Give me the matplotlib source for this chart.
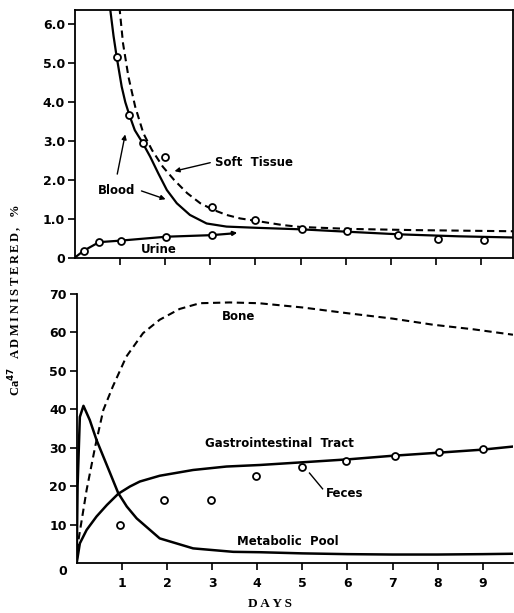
import numpy as np
import matplotlib.pyplot as plt

# --- upper panel: blood, soft tissue, urine (% of Ca47 given) ---
obs_days = [0.93, 1.21, 1.52, 2.0, 3.03, 4.0, 5.02, 6.02, 7.16, 8.04, 9.06]
obs_vals = [5.16, 3.67, 2.96, 2.60, 1.31, 0.97, 0.74, 0.69, 0.58, 0.47, 0.46]

blood_days = [0.78, 0.86, 0.93, 1.04, 1.12, 1.21, 1.33, 1.50, 1.67, 1.85, 2.04,
              2.26, 2.55, 2.92, 3.36, 4.0, 5.0, 6.0, 7.2, 8.5, 9.7]
blood_vals = [6.45, 5.70, 5.16, 4.40, 4.00, 3.67, 3.28, 2.96, 2.60, 2.17, 1.74,
              1.40, 1.10, 0.88, 0.80, 0.77, 0.73, 0.67, 0.60, 0.55, 0.52]

soft_days = [0.99, 1.07, 1.19, 1.34, 1.52, 1.71, 1.95, 2.20, 2.49, 2.78,
             3.07, 3.36, 3.66, 4.0, 4.6, 5.0, 6.1, 7.5, 9.7]
soft_vals = [6.45, 5.51, 4.65, 3.88, 3.20, 2.77, 2.34, 2.0, 1.66, 1.40,
             1.23, 1.10, 1.01, 0.95, 0.84, 0.79, 0.74, 0.71, 0.68]

urine_days = [0, 0.2, 0.54, 1.02, 2.03, 3.03, 3.45]
urine_vals = [0, 0.18, 0.40, 0.44, 0.54, 0.58, 0.62]
urine_obs_days = [0.2, 0.54, 1.02, 2.03, 3.03]
urine_obs_vals = [0.18, 0.40, 0.44, 0.54, 0.58]

top_yticks = [0, 1, 2, 3, 4, 5, 6]
top_ylabels = ['0', '1.0', '2.0', '3.0', '4.0', '5.0', '6.0']

# --- lower panel: bone, GI tract, metabolic pool, feces ---
bone_days = [0, 0.04, 0.22, 0.41, 0.59, 0.8, 1.1, 1.47, 1.84, 2.28, 2.73,
             3.39, 4.04, 5.0, 6.0, 7.0, 7.9, 8.8, 9.67]
bone_vals = [0, 6.0, 19.0, 30.3, 39.8, 45.9, 53.7, 59.8, 63.3, 66.1, 67.6,
             67.8, 67.6, 66.5, 65.0, 63.6, 62.0, 60.8, 59.4]

pool_days = [0, 0.02, 0.07, 0.15, 0.29, 0.44, 0.59, 0.74, 0.92, 1.11, 1.33,
             1.84, 2.58, 3.47, 4.06, 5.0, 6.0, 7.0, 8.0, 9.0, 9.67]
pool_vals = [0, 20.0, 38.0, 40.9, 37.2, 32.0, 27.7, 23.4, 18.2, 14.7, 11.6,
             6.4, 3.8, 2.9, 2.8, 2.5, 2.3, 2.2, 2.2, 2.3, 2.4]

gi_days = [0, 0.07, 0.22, 0.44, 0.67, 0.92, 1.18, 1.40, 1.84, 2.58, 3.32,
           4.06, 5.0, 6.05, 7.0, 7.89, 9.0, 9.67]
gi_vals = [0, 5.1, 8.6, 12.1, 15.1, 18.0, 19.9, 21.2, 22.7, 24.2, 25.1,
           25.5, 26.2, 27.0, 27.9, 28.6, 29.5, 30.3]

feces_days = [0.95, 1.94, 2.97, 3.97, 5.0, 5.98, 7.05, 8.02, 9.0]
feces_vals = [9.9, 16.4, 16.4, 22.7, 25.1, 26.6, 27.9, 28.8, 29.6]

bot_yticks = [10, 20, 30, 40, 50, 60, 70]
day_ticks = [1, 2, 3, 4, 5, 6, 7, 8, 9]

sans = 'DejaVu Sans'
serif = 'Liberation Serif'
dash = (0, (3.5, 2.2))
circ = dict(marker='o', ms=5, mfc='white', mec='black', mew=1.3, ls='none', zorder=5)

fig = plt.figure(figsize=(5.14, 6.13), dpi=100)

# upper panel
ax1 = fig.add_axes([0.1453, 0.5796, 0.8527, 0.4041])
ax1.plot(blood_days, blood_vals, color='black', lw=1.6)
ax1.plot(soft_days, soft_vals, color='black', lw=1.5, ls=dash)
ax1.plot(urine_days, urine_vals, color='black', lw=1.6)
ax1.annotate('', xy=(3.66, 0.65), xytext=(3.4, 0.615),
             arrowprops=dict(arrowstyle='-|>', color='black', lw=1.4,
                             mutation_scale=6))
ax1.plot(obs_days, obs_vals, **circ)
ax1.plot(urine_obs_days, urine_obs_vals, **circ)
ax1.set_xlim(0, 9.70)
ax1.set_ylim(0, 6.37)
ax1.set_xticks(day_ticks)
ax1.set_xticklabels([])
ax1.set_yticks(top_yticks)
ax1.set_yticklabels(top_ylabels)
for s in ax1.spines.values():
    s.set_linewidth(1.3)

tk = dict(fontsize=8.5, fontweight='bold', family=sans)
ax1.text(3.10, 2.46, 'Soft  Tissue', va='center', ha='left', **tk)
ax1.annotate('', xy=(2.15, 2.21), xytext=(3.06, 2.46),
             arrowprops=dict(arrowstyle='-|>', color='black', lw=1.0,
                             mutation_scale=7))
ax1.text(0.52, 1.74, 'Blood', va='center', ha='left', **tk)
ax1.annotate('', xy=(1.13, 3.24), xytext=(0.93, 2.08),
             arrowprops=dict(arrowstyle='-|>', color='black', lw=1.0,
                             mutation_scale=7))
ax1.annotate('', xy=(2.07, 1.48), xytext=(1.42, 1.74),
             arrowprops=dict(arrowstyle='-|>', color='black', lw=1.0,
                             mutation_scale=7))
ax1.text(1.87, 0.22, 'Urine', va='center', ha='center', **tk)

# lower panel
ax2 = fig.add_axes([0.1492, 0.0816, 0.8488, 0.4388])
ax2.plot(bone_days, bone_vals, color='black', lw=1.5, ls=dash)
ax2.plot(pool_days, pool_vals, color='black', lw=1.8)
ax2.plot(gi_days, gi_vals, color='black', lw=1.8)
ax2.plot(feces_days, feces_vals, **circ)
ax2.set_xlim(0, 9.67)
ax2.set_ylim(0, 70)
ax2.set_xticks(day_ticks)
ax2.set_yticks(bot_yticks)
ax2.spines['top'].set_visible(False)
ax2.spines['right'].set_visible(False)
for s in ['left', 'bottom']:
    ax2.spines[s].set_linewidth(1.3)
ax2.text(-0.022, -0.033, '0', transform=ax2.transAxes, ha='right', va='center',
         fontsize=9, fontweight='bold', family=sans)

ax2.text(3.58, 64.1, 'Bone', ha='center', va='center', **tk)
ax2.text(4.49, 31.1, 'Gastrointestinal  Tract', ha='center', va='center', **tk)
ax2.text(5.52, 18.0, 'Feces', ha='left', va='center', **tk)
ax2.plot([5.16, 5.45], [23.4, 19.3], color='black', lw=1.0)
ax2.text(4.67, 5.5, 'Metabolic  Pool', ha='center', va='center', **tk)

for ax in (ax1, ax2):
    ax.tick_params(direction='out', length=5, width=1.2, pad=2)
    for lab in ax.get_xticklabels() + ax.get_yticklabels():
        lab.set_fontsize(9)
        lab.set_fontweight('bold')
        lab.set_family(sans)
ax2.tick_params(axis='x', pad=5)

ts = '\u2009'
ylab = 'Ca$^{\\mathbf{47}}$   ' + ts.join('ADMINISTERED,') + '   %'
fig.text(0.031, 0.51, ylab, rotation=90, ha='center', va='center',
         fontsize=9, fontweight='bold', family=serif)
fig.text(0.525, 0.0147, 'D' + ts + 'A' + ts + 'Y' + ts + 'S', ha='center',
         va='center', fontsize=9.5, fontweight='bold', family=serif)

fig.savefig('out.png', dpi=100)
